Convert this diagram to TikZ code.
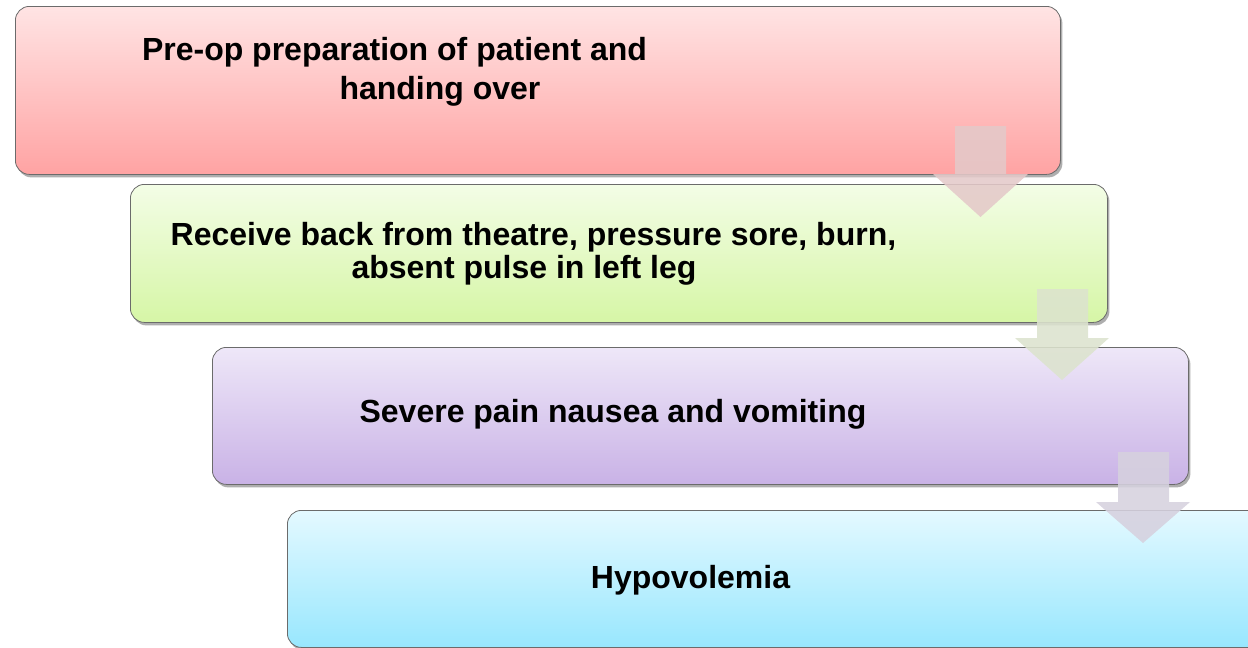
\documentclass[tikz,border=0pt]{standalone}
\usepackage{fontspec}
\setmainfont{Liberation Sans}
\usetikzlibrary{shadows}
\definecolor{redtop}{HTML}{FFE4E4}
\definecolor{redbot}{HTML}{FFA3A3}
\definecolor{greentop}{HTML}{F3FDE6}
\definecolor{greenbot}{HTML}{D6F6A6}
\definecolor{purptop}{HTML}{EEE7F8}
\definecolor{purpbot}{HTML}{C9B2E6}
\definecolor{bluetop}{HTML}{E4F9FF}
\definecolor{bluebot}{HTML}{98E7FE}
\definecolor{arrA}{HTML}{E4C9C9}
\definecolor{arrB}{HTML}{DCE3CE}
\definecolor{arrC}{HTML}{D6D1DE}
\begin{document}
\begin{tikzpicture}[x=1pt,y=-1pt,
  box/.style={draw=black!58, line width=0.8pt, rounded corners=14pt, inner sep=0pt,
    anchor=north west, drop shadow={shadow xshift=2pt, shadow yshift=-3pt, opacity=0.45, fill=black!70}},
  txt/.style={anchor=base, inner sep=0pt, font=\bfseries\fontsize{32}{38}\selectfont},
  arrowshape/.style={opacity=0.88}
]
\useasboundingbox (0,0) rectangle (1248,648);
\clip (0,0) rectangle (1248,648);

% boxes
\node[box, top color=redtop, bottom color=redbot, minimum width=1045pt, minimum height=168pt] (b1) at (15,6) {};
\node[box, top color=greentop, bottom color=greenbot, minimum width=977pt, minimum height=138pt] (b2) at (130,184) {};
\node[box, top color=purptop, bottom color=purpbot, minimum width=976pt, minimum height=137pt] (b3) at (212,347) {};
\node[box, top color=bluetop, bottom color=bluebot, minimum width=990pt, minimum height=137pt] (b4) at (287,510) {};

% arrows
\fill[arrA, arrowshape] (955,126) -- (1006,126) -- (1006,174) -- (1028,174) -- (980.5,217) -- (933,174) -- (955,174) -- cycle;
\fill[arrB, arrowshape] (1037,289) -- (1088,289) -- (1088,338) -- (1109,338) -- (1062,380) -- (1015,338) -- (1037,338) -- cycle;
\fill[arrC, arrowshape] (1118,452) -- (1169,452) -- (1169,502) -- (1190,502) -- (1143,543) -- (1096,502) -- (1118,502) -- cycle;

% texts
\node[txt] (t1a) at (394.5,60) {Pre-op preparation of patient and};
\node[txt] (t1b) at (440,99) {handing over};
\node[txt] (t2a) at (533.5,245) {Receive back from theatre, pressure sore, burn,};
\node[txt] (t2b) at (524,278) {absent pulse in left leg};
\node[txt] (t3) at (613,422) {Severe pain nausea and vomiting};
\node[txt] (t4) at (690.5,588) {Hypovolemia};
\end{tikzpicture}
\end{document}
